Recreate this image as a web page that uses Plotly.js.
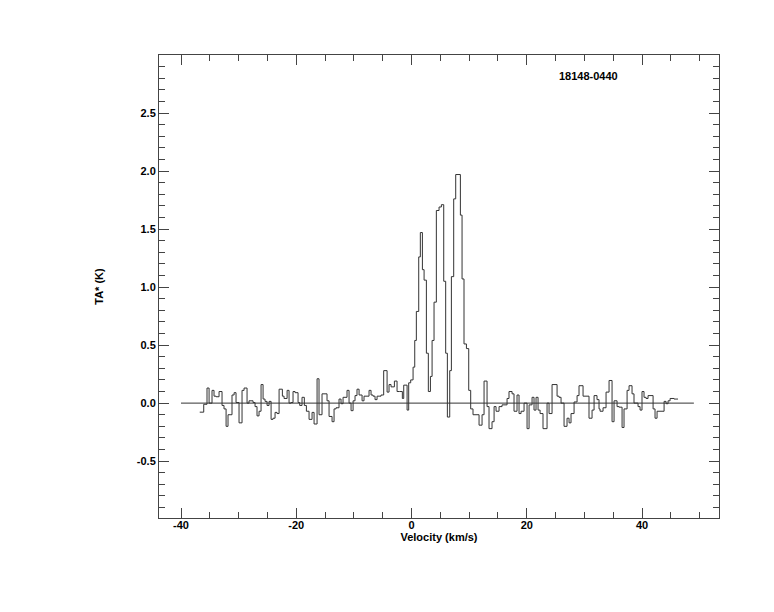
<!DOCTYPE html>
<html>
<head>
<meta charset="utf-8">
<script src="https://cdn.plot.ly/plotly-3.0.1.min.js"></script>
<style>
html,body{margin:0;padding:0;background:#fff;}
#chart{width:774px;height:612px;}
</style>
</head>
<body>
<div id="chart"></div>
<script>
// Channel start velocities (km/s) and antenna temperature TA* (K)
const velocity = [
-36.75,-36.06,-35.49,-35.13,-34.62,-34.27,-33.92,-33.40,-32.88,-32.54,-32.18,-31.84,-31.49,-31.15,-30.79,-30.45,
-29.93,-29.41,-29.06,-28.54,-28.20,-27.50,-27.15,-26.81,-26.46,-26.11,-25.76,-25.42,-25.07,-24.72,-24.37,-24.03,
-23.68,-23.34,-22.98,-22.41,-22.12,-21.59,-21.25,-20.91,-20.56,-20.21,-19.69,-19.40,-19.00,-18.60,-18.24,-17.78,
-17.26,-16.91,-16.39,-16.05,-15.53,-14.66,-14.31,-13.79,-13.44,-13.10,-12.58,-12.23,-11.88,-11.19,-10.84,-10.49,
-10.14,-9.80,-9.46,-9.10,-8.58,-8.24,-7.72,-7.37,-7.02,-6.68,-6.33,-5.98,-5.63,-5.29,-4.83,-4.24,-3.90,-3.55,
-2.97,-2.51,-2.05,-1.59,-1.35,-0.77,-0.49,-0.14,0.27,0.56,0.84,1.25,1.53,1.89,2.18,2.58,2.92,3.28,3.57,3.91,
4.31,4.78,5.18,5.59,5.93,6.22,6.63,6.92,7.32,7.67,8.48,8.77,9.11,9.53,9.93,10.27,10.67,11.72,12.24,12.59,13.11,
13.45,13.97,14.33,14.67,15.19,15.71,16.58,16.92,17.45,17.79,18.31,18.66,19.01,19.53,20.05,20.40,20.92,21.26,
21.61,21.96,22.31,22.82,23.52,23.87,24.39,25.26,25.60,25.95,26.47,26.99,27.34,27.68,28.21,28.73,29.07,29.77,
30.80,31.33,31.68,32.19,32.54,32.72,33.24,33.76,34.28,34.80,35.15,35.67,36.02,36.54,36.88,37.41,37.75,38.27,
38.61,39.31,39.66,40.00,40.35,40.70,41.05,41.92,42.26,42.61,43.83,44.17,44.52,44.87,45.56,46.25
];
const temperature = [
-0.078,-0.01,0.13,0.0,0.11,0.06,0.055,0.10,-0.02,-0.05,-0.20,-0.10,-0.10,0.07,0.09,0.005,
-0.17,0.11,0.13,0.0,0.02,0.005,-0.03,-0.11,-0.07,0.16,0.035,0.015,-0.02,0.015,-0.14,-0.13,
-0.08,-0.09,0.12,0.06,0.04,0.11,0.0,0.005,0.10,0.09,0.005,-0.02,0.05,-0.02,-0.07,-0.14,
-0.08,-0.18,0.21,-0.10,0.08,0.02,-0.115,-0.16,-0.05,-0.04,0.035,-0.005,0.05,0.11,0.0,-0.065,
0.02,0.065,0.12,0.07,0.02,0.06,0.06,0.11,0.07,0.06,0.03,0.06,0.06,0.07,0.28,0.095,0.16,0.14,
0.19,0.10,0.10,0.04,0.155,-0.06,0.175,0.20,0.31,0.54,0.79,1.26,1.47,1.15,1.06,0.43,0.10,0.23,0.54,0.87,
1.66,1.69,1.71,1.05,0.43,-0.12,0.28,1.09,1.76,1.97,1.62,1.07,0.51,0.47,0.11,-0.05,-0.10,-0.19,-0.10,0.19,-0.03,
-0.22,-0.16,-0.03,-0.07,-0.03,-0.015,0.04,0.10,0.08,-0.07,0.07,-0.09,-0.07,0.0,-0.22,-0.015,0.05,-0.06,
0.05,-0.06,-0.09,-0.22,0.0,-0.09,0.16,0.06,0.05,0.0,-0.20,-0.13,-0.17,-0.09,0.01,0.065,0.15,0.06,
-0.13,-0.06,0.065,0.03,-0.05,-0.07,-0.04,0.095,0.195,-0.16,0.02,-0.03,-0.035,-0.21,-0.05,0.11,0.15,0.08,
0.0,-0.03,-0.06,0.10,0.05,0.04,0.065,-0.05,-0.13,-0.07,0.015,-0.005,0.02,0.04,0.035,0.035
];
// Zero baseline
const baseX = [-40, 49];
const baseY = [0, 0];
// Axis ticks
const xTicks = [-40, -20, 0, 20, 40];
const yTicks = [-0.5, 0.0, 0.5, 1.0, 1.5, 2.0, 2.5];
const yTickText = ["-0.5", "0.0", "0.5", "1.0", "1.5", "2.0", "2.5"];
const sourceName = "18148-0440";

const fontBold = {family: "Liberation Sans, Arial, sans-serif", size: 11, color: "#000", weight: 700};
const axisColor = "#444";

const traces = [
  {x: baseX, y: baseY, type: "scatter", mode: "lines", line: {color: "#333", width: 1}, hoverinfo: "skip"},
  {x: velocity, y: temperature, type: "scatter", mode: "lines", line: {color: "#333", width: 1, shape: "hv"}}
];

const layout = {
  width: 774, height: 612,
  margin: {l: 159, r: 55, t: 55, b: 94, pad: 0},
  paper_bgcolor: "#fff", plot_bgcolor: "#fff",
  showlegend: false,
  font: fontBold,
  xaxis: {
    range: [-43.82, 53.36],
    tickvals: xTicks, ticktext: xTicks.map(String),
    ticks: "inside", ticklen: 10, tickwidth: 1, tickcolor: axisColor,
    ticklabelstandoff: -3,
    minor: {dtick: 5, tick0: 0, ticks: "inside", ticklen: 6, tickwidth: 1, tickcolor: axisColor, showgrid: false},
    showline: true, linecolor: axisColor, linewidth: 1, mirror: "allticks",
    showgrid: false, zeroline: false,
    tickfont: fontBold,
    title: {text: "Velocity (km/s)", font: fontBold, standoff: 0}
  },
  yaxis: {
    range: [-0.99, 3.0],
    tickvals: yTicks, ticktext: yTickText,
    ticks: "inside", ticklen: 10, tickwidth: 1, tickcolor: axisColor,
    minor: {dtick: 0.1, tick0: 0, ticks: "inside", ticklen: 6, tickwidth: 1, tickcolor: axisColor, showgrid: false},
    showline: true, linecolor: axisColor, linewidth: 1, mirror: "allticks",
    showgrid: false, zeroline: false,
    tickfont: fontBold,
    title: {text: "TA* (K)", font: fontBold, standoff: 30}
  },
  annotations: [
    {text: sourceName, xref: "paper", yref: "paper", x: 0.7666, y: 0.9546,
     xanchor: "center", yanchor: "middle", showarrow: false, font: fontBold}
  ]
};

Plotly.newPlot("chart", traces, layout, {displayModeBar: false, staticPlot: true});
</script>
</body>
</html>
